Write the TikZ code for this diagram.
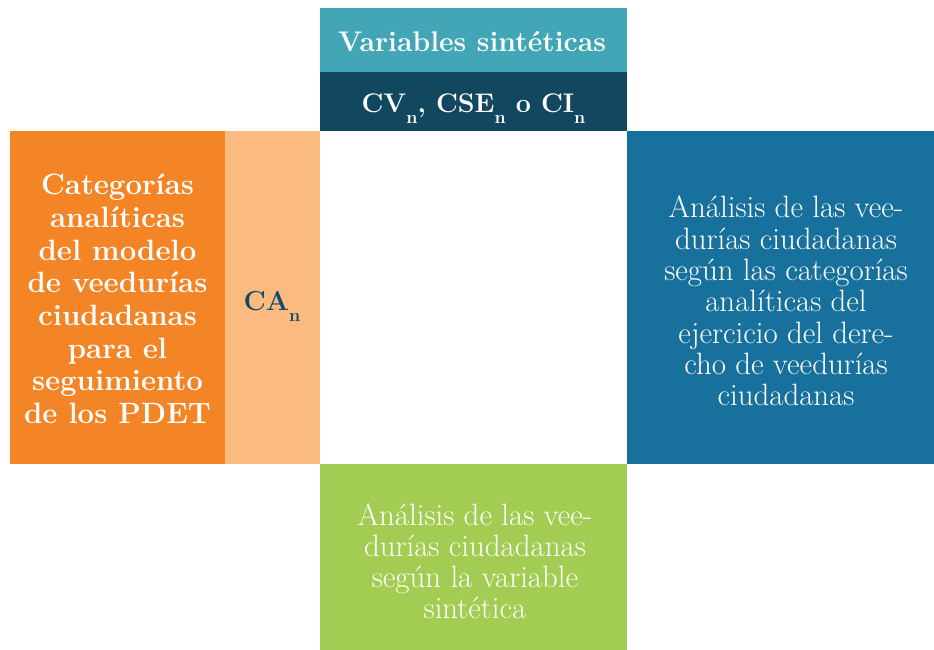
\documentclass[tikz,border=0pt]{standalone}
\usepackage{fontspec}
\definecolor{tealA}{HTML}{43A6B6}
\definecolor{tealB}{HTML}{11485F}
\definecolor{orA}{HTML}{F38526}
\definecolor{orB}{HTML}{FABA80}
\definecolor{blueA}{HTML}{18709D}
\definecolor{greenA}{HTML}{A2CD52}
\definecolor{caText}{HTML}{154B66}
\newcommand{\subn}{\raisebox{-11bp}{\fontsize{18}{18}\selectfont n}}
\begin{document}
\begin{tikzpicture}[x=1bp,y=-1bp,
  txt/.style={align=center,text=white,inner sep=0}]
\useasboundingbox (0,0) rectangle (934,650);
% boxes
\fill[tealA] (320,8) rectangle (627,72);
\fill[tealB] (320,72) rectangle (627,131);
\fill[orA] (10,131) rectangle (225,464);
\fill[orB] (225,131) rectangle (320,464);
\fill[blueA] (627,131) rectangle (934,464);
\fill[greenA] (320,464) rectangle (627,650);
% texts
\node[txt,font=\bfseries\fontsize{28.5}{30}\selectfont] (vs) at (472,42) {Variables sintéticas};
\node[txt,anchor=base,font=\bfseries\fontsize{27}{30}\selectfont] (cv) at (473.5,113) {CV\subn, CSE\subn{} o CI\subn};
\node[txt,font=\bfseries\fontsize{29.5}{32.8}\selectfont] (cat) at (117.5,299) {Categorías\\analíticas\\del modelo\\de veedurías\\ciudadanas\\para el\\seguimiento\\de los PDET};
\node[txt,anchor=base,text=caText,font=\bfseries\fontsize{27.5}{30}\selectfont] (ca) at (272,310) {CA\subn};
\node[txt,font=\fontsize{31}{31.5}\selectfont] (ra) at (786,301) {Análisis de las vee-\\durías ciudadanas\\según las categorías\\analíticas del\\ejercicio del dere-\\cho de veedurías\\ciudadanas};
\node[txt,font=\fontsize{31}{31}\selectfont] (ga) at (475,561) {Análisis de las vee-\\durías ciudadanas\\según la variable\\sintética};
\end{tikzpicture}
\end{document}
